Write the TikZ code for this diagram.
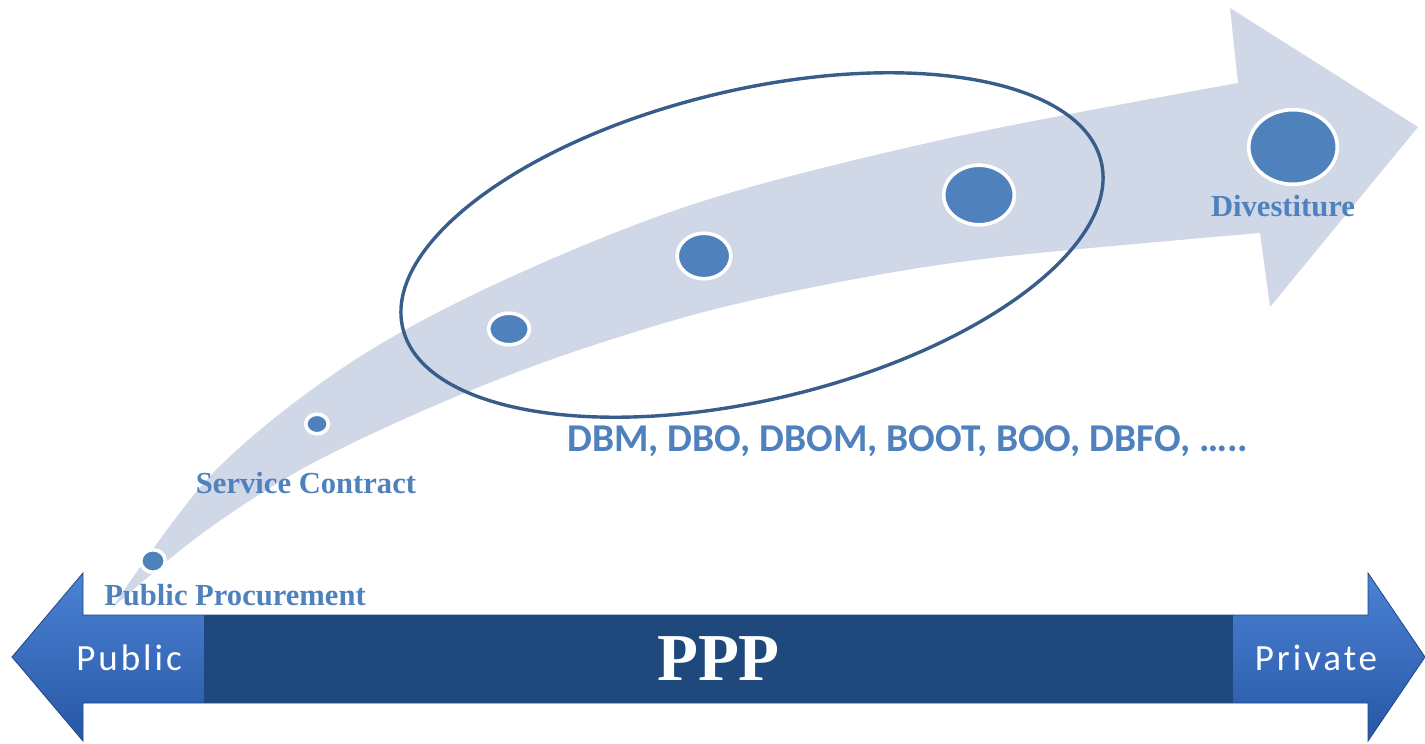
\documentclass[tikz,border=0pt]{standalone}
\usepackage{fontspec}
\setmainfont{Liberation Serif}
\newfontfamily\calibri{Carlito}
\newfontfamily\calibrisp[LetterSpace=8]{Carlito}
\usepackage{tikz}
\usetikzlibrary{shapes.geometric}
\definecolor{txtblue}{HTML}{4F81BD}
\definecolor{dotblue}{HTML}{4F81BD}
\definecolor{bandgray}{HTML}{D0D8E8}
\definecolor{ringblue}{HTML}{385D8A}
\definecolor{barblue}{HTML}{1F497D}
\definecolor{arrowtop}{HTML}{4C82D4}
\definecolor{arrowmid}{HTML}{3468BE}
\definecolor{arrowbot}{HTML}{2757A6}
\tikzset{%
  dot/.style={ellipse, fill=dotblue, draw=white, line width=1.8pt, inner sep=0pt},
  stage/.style={text=txtblue, font=\fontsize{15.3}{18}\selectfont\bfseries, inner sep=0pt},
  side/.style={text=white, font=\calibrisp\fontsize{18.5}{22}\selectfont, inner sep=0pt},
  cluster/.style={ellipse, draw=ringblue, line width=1.7pt, inner sep=0pt}}

\begin{document}
\begin{tikzpicture}[x=0.5pt,y=-0.5pt]
\useasboundingbox (0,0) rectangle (1425,744);
\fill[bandgray] (112,608) -- plot[smooth, tension=0.55] coordinates {(112,608) (213,473) (347,365) (500,282) (700,202) (950,138) (1238,83)}
  -- (1230,8) -- (1418,127) -- (1270,307) -- (1260,233)
  -- plot[smooth, tension=0.55] coordinates {(1260,233) (1000,257) (850,280) (700,313) (550,360) (420,412) (300,470) (200,535) (112,608)} -- cycle;
\node[dot, minimum width=12.3pt, minimum height=11.3pt] (d1) at (153,561) {};
\node[dot, minimum width=11.3pt, minimum height=9.8pt] (d2) at (317,424) {};
\node[dot, minimum width=20.3pt, minimum height=15.8pt] (d3) at (509,329) {};
\node[dot, minimum width=26.8pt, minimum height=22.8pt] (d4) at (704,256) {};
\node[dot, minimum width=35.3pt, minimum height=29.8pt] (d5) at (979,195) {};
\node[dot, minimum width=44.3pt, minimum height=37.3pt] (d6) at (1293,147) {};
\node[cluster, rotate=13.4, minimum width=359pt, minimum height=155pt] (grp) at (752,245) {};
\node[stage] (pubproc) at (235,595) {Public Procurement};
\node[stage] (servc) at (306,483) {Service Contract};
\node[stage] (divest) at (1283,206) {Divestiture};
\node[text=txtblue, font=\calibri\fontsize{19.7}{22}\selectfont\bfseries, inner sep=0pt] (models) at (908,441) {DBM, DBO, DBOM, BOOT, BOO, DBFO, …..};
\shade[top color=arrowtop, middle color=arrowmid, bottom color=arrowbot, draw=arrowbot!80!black, line width=0.4pt]
  (12,657) -- (83,573) -- (83,615) -- (1368,615) -- (1368,573) -- (1425,657)
  -- (1368,741) -- (1368,703) -- (83,703) -- (83,741) -- cycle;
\node[fill=barblue, minimum width=514.5pt, minimum height=44pt, inner sep=0pt,
  text=white, font=\fontsize{33.5}{38}\selectfont\bfseries] (ppp) at (718.5,659) {PPP};
\node[side] (public) at (129,658) {Public};
\node[side] (private) at (1316,658) {Private};
\end{tikzpicture}
\end{document}
